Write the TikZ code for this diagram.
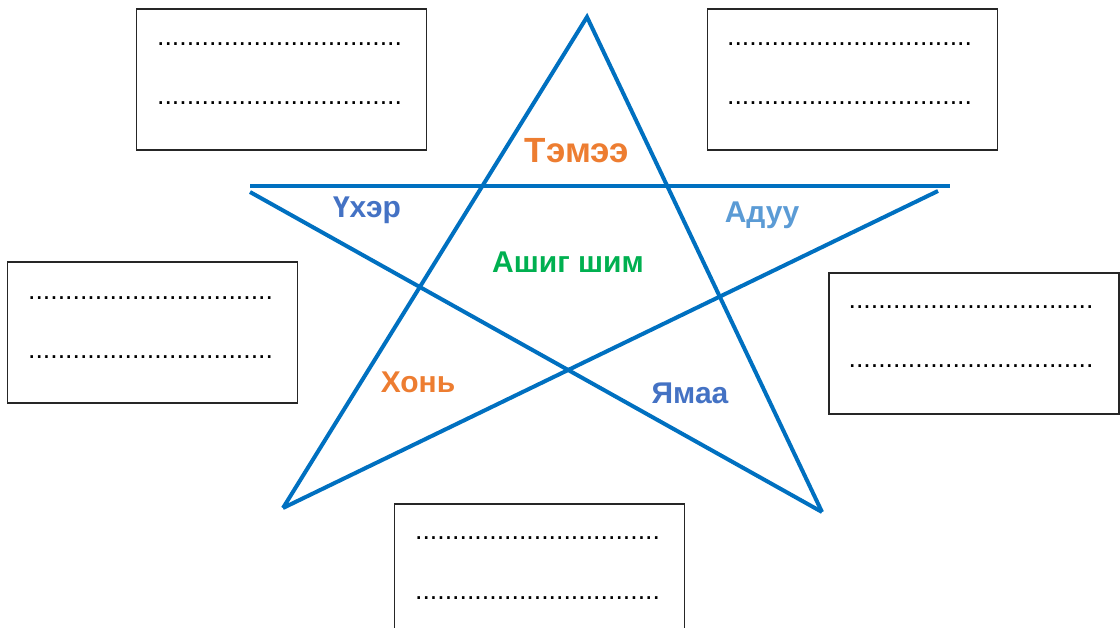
\documentclass[tikz,border=0pt]{standalone}
\usepackage{fontspec}
\setmainfont{Liberation Sans}
\usepackage{xcolor}
\usepackage{tikz}
\usetikzlibrary{
    arrows.meta,
    positioning,
    calc
}
\definecolor{starblue}{HTML}{0070C0}
\definecolor{animorange}{HTML}{ED7D31}
\definecolor{animgreen}{HTML}{00B050}
\definecolor{animblue}{HTML}{4472C4}
\definecolor{animsky}{HTML}{5B9BD5}
\definecolor{boxgray}{HTML}{262626}
\tikzset{
    % Star line
    starline/.style={
        draw=starblue,
        line width=4pt,
        line cap=butt
    },
    % Animal label
    animal/.style={
        text=#1,
        font=\fontsize{30}{36}\selectfont\bfseries,
        inner sep=0pt,
        anchor=base
    },
    animal/.default=animblue,
    % Answer box
    answerbox/.style={
        rectangle,
        draw=boxgray,
        fill=white,
        line width=1.2pt,
        minimum width=290pt,
        minimum height=141pt,
        inner sep=0pt
    },
    % Dotted answer row
    dotrow/.style={
        font=\fontsize{26.7}{30}\selectfont,
        inner sep=0pt,
        anchor=base west
    }
}

\begin{document}
\begin{tikzpicture}[x=1pt, y=-1pt]
    \useasboundingbox (0,0) rectangle (1120,628);

    % star corners
    \coordinate (apex) at (587,17);
    \coordinate (foot-l) at (283,508);
    \coordinate (foot-r) at (822,512);
    \coordinate (arm-l) at (250,186);
    \coordinate (arm-r) at (950,186);
    \coordinate (tip-l) at (250,192);
    \coordinate (tip-r) at (938,191);

    \draw[starline] (arm-l) -- (arm-r);
    \draw[starline] (foot-l) -- (apex) -- (foot-r);
    \draw[starline] (foot-l) -- (tip-r);
    \draw[starline] (foot-r) -- (tip-l);

    % labels
    \node[animal=animorange, font=\fontsize{35}{42}\selectfont\bfseries] (lbl-temee) at (577,163) {Тэмээ};
    \node[animal=animblue] (lbl-ukher) at (367,218) {Үхэр};
    \node[animal=animsky] (lbl-aduu) at (762,223) {Адуу};
    \node[animal=animgreen] (lbl-ashig) at (568,273) {Ашиг шим};
    \node[animal=animorange] (lbl-khoni) at (418,393) {Хонь};
    \node[animal=animblue] (lbl-yamaa) at (690,404) {Ямаа};

    % answer boxes
    \node[answerbox] (ans-tl) at (281.5,79.5) {};
    \node[dotrow] (ans-tl-a) at ([xshift=21pt, yshift=-37pt]ans-tl.north west) {.................................};
    \node[dotrow] (ans-tl-b) at ([xshift=21pt, yshift=-96pt]ans-tl.north west) {.................................};

    \node[answerbox] (ans-tr) at (852.5,79.5) {};
    \node[dotrow] (ans-tr-a) at ([xshift=20pt, yshift=-37pt]ans-tr.north west) {.................................};
    \node[dotrow] (ans-tr-b) at ([xshift=20pt, yshift=-96pt]ans-tr.north west) {.................................};

    \node[answerbox] (ans-l) at (152.5,332.5) {};
    \node[dotrow] (ans-l-a) at ([xshift=21pt, yshift=-38pt]ans-l.north west) {.................................};
    \node[dotrow] (ans-l-b) at ([xshift=21pt, yshift=-97pt]ans-l.north west) {.................................};

    \node[answerbox] (ans-r) at (974,343.5) {};
    \node[dotrow] (ans-r-a) at ([xshift=20pt, yshift=-36pt]ans-r.north west) {.................................};
    \node[dotrow] (ans-r-b) at ([xshift=20pt, yshift=-95pt]ans-r.north west) {.................................};

    \node[answerbox] (ans-b) at (539.5,574.5) {};
    \node[dotrow] (ans-b-a) at ([xshift=21pt, yshift=-36pt]ans-b.north west) {.................................};
    \node[dotrow] (ans-b-b) at ([xshift=21pt, yshift=-96pt]ans-b.north west) {.................................};
\end{tikzpicture}
\end{document}
